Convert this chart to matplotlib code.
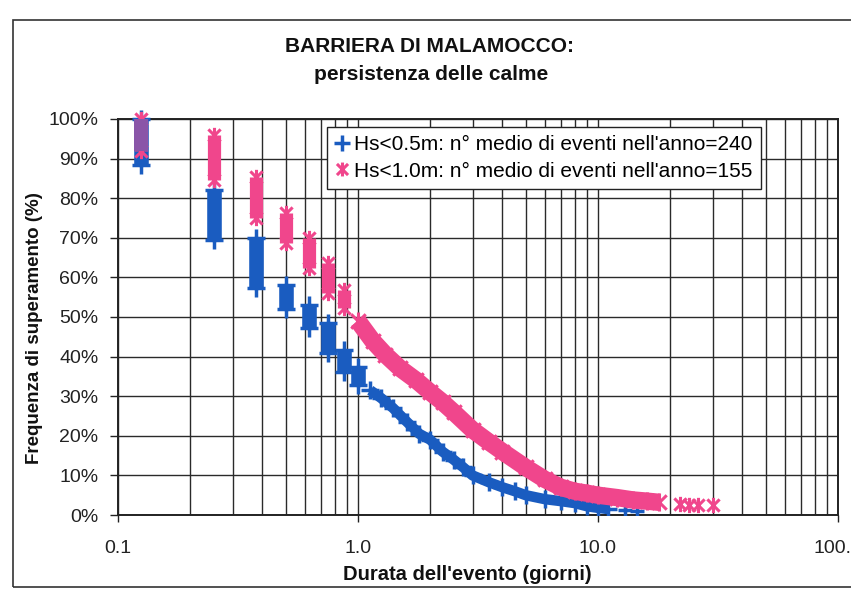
import matplotlib
matplotlib.use('Agg')
import matplotlib.pyplot as plt
import numpy as np
from matplotlib.path import Path
from matplotlib.patches import Rectangle
from matplotlib.lines import Line2D
from matplotlib.ticker import LogLocator, FuncFormatter, MultipleLocator

plt.rcParams['font.family'] = ['Liberation Sans', 'DejaVu Sans']

# Hs<0.5m - durations (days) with stacked events, top/bottom exceedance (%)
blue_d = [0.125, 0.25, 0.375, 0.5, 0.625, 0.75, 0.875, 1.0]
blue_top = [100, 82, 70, 58, 53, 48.5, 41.7, 37.4]
blue_bot = [88.5, 69.5, 57.3, 52, 47.2, 41, 36, 32.8]
# longer events
blue_tail_d = [1.125, 1.25, 1.4, 1.6, 1.8, 2.0, 2.25, 2.5, 2.75, 3.0, 3.5, 4.0, 4.5, 5.0, 6.0, 7.0, 8.0, 9.0, 10.0, 11.0]
blue_tail_f = [31.5, 29.5, 27, 23.5, 20.5, 19, 16, 14, 12, 10, 8.3, 7, 6, 5, 4, 3.5, 3, 2.2, 1.8, 1.5]
blue_iso_d = [13.0, 14.5]
blue_iso_f = [1.2, 1.0]

# Hs<1.0m
pink_d = [0.125, 0.25, 0.375, 0.5, 0.625, 0.75, 0.875]
pink_top = [100, 96, 85.4, 76.3, 70, 63.6, 56.8]
pink_bot = [92, 84.5, 75, 68.7, 62.4, 56, 52.3]
pink_tail_d = [1.0, 1.15, 1.3, 1.5, 1.75, 2.0, 2.25, 2.5, 3.0, 3.5, 4.0, 5.0, 6.0, 7.0, 8.0, 9.0, 10.0, 12.0, 14.0, 16.0, 18.0]
pink_tail_f = [49, 44, 40.5, 37, 34, 31, 28.5, 26, 21.5, 18.5, 16, 12, 9, 7, 6, 5.5, 5, 4.4, 3.8, 3.5, 3.2]
pink_iso_d = [22.0, 24.0, 26.0, 30.0]
pink_iso_f = [2.7, 2.6, 2.5, 2.4]

lab_blue = "Hs<0.5m: n° medio di eventi nell'anno=240"
lab_pink = "Hs<1.0m: n° medio di eventi nell'anno=155"

BLUE = '#1a5cc0'
PINK = '#f0468c'
PURPLE = '#8a55a8'

ast = Path([(0, -1), (0, 1), (-0.8, -0.8), (0.8, 0.8), (-0.8, 0.8), (0.8, -0.8)],
           [Path.MOVETO, Path.LINETO] * 3)

W, H = 851, 593
fig = plt.figure(figsize=(W / 100, H / 100), dpi=100)
ax = fig.add_axes([118 / W, 1 - 515 / H, 720 / W, 396 / H])
ax.set_xscale('log')
ax.set_xlim(0.1, 100)
ax.set_ylim(0, 100)

# stacks of events
ax.vlines(blue_d, blue_bot, blue_top, color=BLUE, lw=10.5, capstyle='butt', zorder=3)
ax.plot(blue_d, blue_top, ls='none', marker='+', ms=13, mew=2.5, color=BLUE, zorder=3, clip_on=False)
ax.plot(blue_d, blue_bot, ls='none', marker='+', ms=13, mew=2.5, color=BLUE, zorder=3)
ax.plot(blue_tail_d, blue_tail_f, color=BLUE, lw=7.5, marker='+', ms=13, mew=2.5, solid_capstyle='butt', zorder=3)
ax.plot(blue_iso_d, blue_iso_f, ls='none', marker='+', ms=10, mew=2.5, color=BLUE, zorder=3)

ax.vlines(pink_d, pink_bot, pink_top, color=PINK, lw=9.5, capstyle='butt', zorder=4)
ax.plot(pink_d, pink_top, ls='none', marker=ast, ms=11, mew=2.2, color=PINK, zorder=4, clip_on=False)
ax.plot(pink_d, pink_bot, ls='none', marker=ast, ms=11, mew=2.2, color=PINK, zorder=4)
ax.plot(pink_tail_d, pink_tail_f, color=PINK, lw=12.5, marker=ast, ms=13, mew=2.2, solid_capstyle='butt', zorder=4)
ax.plot(pink_iso_d, pink_iso_f, ls='none', marker=ast, ms=11, mew=2.2, color=PINK, zorder=4, clip_on=False)

# where both series overlap the print shows purple
for i, d in enumerate(blue_d):
    if d in pink_d:
        j = pink_d.index(d)
        lo = max(blue_bot[i], pink_bot[j])
        hi = min(blue_top[i], pink_top[j])
        if hi > lo:
            ax.vlines(d, lo, hi, color=PURPLE, lw=10, capstyle='butt', zorder=5)

ax.xaxis.set_major_locator(LogLocator(base=10))
ax.xaxis.set_minor_locator(LogLocator(base=10, subs=np.arange(2, 10)))
ax.xaxis.set_major_formatter(FuncFormatter(lambda v, p: '%.1f' % v))
ax.xaxis.set_minor_formatter(FuncFormatter(lambda v, p: ''))
ax.yaxis.set_major_locator(MultipleLocator(10))
ax.yaxis.set_major_formatter(FuncFormatter(lambda v, p: '%d%%' % v))

ax.grid(True, which='both', axis='x', color='#2a2a2a', lw=1.0, zorder=1)
ax.grid(True, which='major', axis='y', color='#2a2a2a', lw=1.0, zorder=1)
ax.set_axisbelow(True)
ax.tick_params(axis='x', which='major', length=5, width=1, pad=13, labelsize=14, colors='#222')
ax.tick_params(axis='x', which='minor', length=0)
ax.tick_params(axis='y', length=6, width=1, pad=8, labelsize=14, colors='#222')
for s in ax.spines.values():
    s.set_color('#222')
    s.set_linewidth(1.4)

h1 = Line2D([], [], ls='none', marker='+', ms=12, mew=2.5, color=BLUE)
h2 = Line2D([], [], ls='none', marker=ast, ms=10, mew=2.2, color=PINK)
leg = ax.legend([h1, h2], [lab_blue, lab_pink], loc='upper left',
                bbox_to_anchor=(327 / W, 1 - 127 / H), bbox_transform=fig.transFigure,
                borderaxespad=0, fancybox=False, framealpha=1, edgecolor='#222',
                fontsize=15, handlelength=0.6, handletextpad=0.3, labelspacing=0.35,
                borderpad=0.4)
leg.get_frame().set_linewidth(1.0)
leg.set_zorder(10)

fig.text(430 / W, 1 - 47 / H, 'BARRIERA DI MALAMOCCO:', ha='center', va='center',
         fontsize=15, fontweight='bold', color='#111')
fig.text(431 / W, 1 - 75 / H, 'persistenza delle calme', ha='center', va='center',
         fontsize=15, fontweight='bold', color='#111')
fig.text(467 / W, 1 - 575 / H, "Durata dell'evento (giorni)", ha='center', va='center',
         fontsize=14.5, fontweight='bold', color='#111')
fig.text(35 / W, 1 - 328 / H, 'Frequenza di superamento (%)', ha='center', va='center',
         rotation=90, fontsize=13.5, fontweight='bold', color='#111')

fig.add_artist(Rectangle((13 / W, 1 - 587 / H), 1.0, (587 - 20) / H, transform=fig.transFigure,
                         fill=False, lw=1.2, ec='#333'))

fig.savefig('out.png', dpi=100)
